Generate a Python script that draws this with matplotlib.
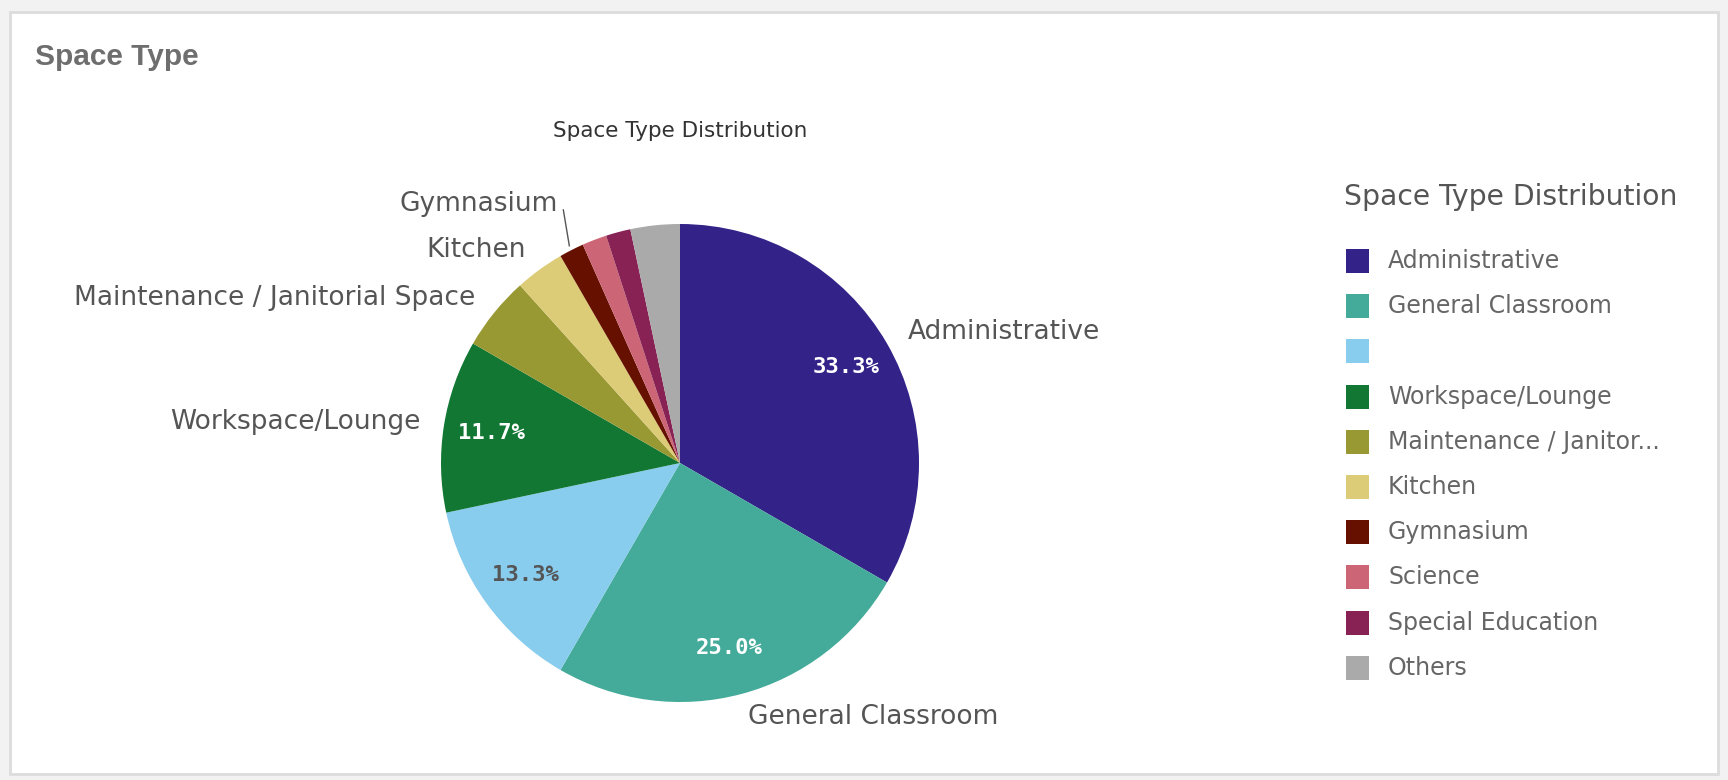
import numpy as np
import matplotlib
matplotlib.use("Agg")
import matplotlib.pyplot as plt
from matplotlib.patches import Rectangle

plt.rcParams['font.family'] = ['DejaVu Sans']

# Data (share of 60 spaces)
categories = ['Administrative', 'General Classroom', '', 'Workspace/Lounge',
              'Maintenance / Janitorial Space', 'Kitchen', 'Gymnasium',
              'Science', 'Special Education', 'Others']
legend_labels = ['Administrative', 'General Classroom', '', 'Workspace/Lounge',
                 'Maintenance / Janitor...', 'Kitchen', 'Gymnasium',
                 'Science', 'Special Education', 'Others']
values = [20, 15, 8, 7, 3, 2, 1, 1, 1, 2]
colors = ['#332288', '#44aa99', '#88ccee', '#117733', '#999933',
          '#ddcc77', '#661100', '#cc6677', '#882255', '#aaaaaa']
# which slices get outside labels / inside percentages
show_label = [True, True, False, True, True, True, False, False, False, False]
show_pct = [True, True, True, True, False, False, False, False, False, False]
pct_colors = ['white', 'white', '#555555', 'white']

W, H = 1728, 780
fig = plt.figure(figsize=(W / 100, H / 100), dpi=100)
fig.patch.set_facecolor('#f2f2f2')

# card
card = Rectangle((10 / W, 6 / H), 1708 / W, 762 / H, transform=fig.transFigure,
                 facecolor='white', edgecolor='#dcdcdc', linewidth=2, zorder=-10)
fig.patches.append(card)

fig.text(35 / W, 1 - 57 / H, 'Space Type', fontsize=21.5, fontweight='bold',
         color='#6e6e6e', va='center', ha='left',
         family=['Liberation Sans Narrow', 'Liberation Sans', 'DejaVu Sans'])

# pie axes
cx, cy, R = 680, 463, 239
ax = fig.add_axes([(cx - R) / W, (H - cy - R) / H, 2 * R / W, 2 * R / H])

total = sum(values)
wedges, _ = ax.pie(values, colors=colors, startangle=90, counterclock=False,
                   wedgeprops=dict(linewidth=0))
ax.set_xlim(-1, 1)
ax.set_ylim(-1, 1)
ax.set_aspect('equal')
ax.axis('off')

ax.text(0, 1.39, 'Space Type Distribution', ha='center', va='center',
        fontsize=15.5, color='#333333')

k = 0
for i, w in enumerate(wedges):
    mid = np.deg2rad((w.theta1 + w.theta2) / 2)
    x, y = np.cos(mid), np.sin(mid)
    if show_label[i]:
        ax.text(1.1 * x, 1.1 * y, categories[i], ha='left' if x > 0 else 'right',
                va='center', fontsize=19, color='#555555')
    if show_pct[i]:
        ax.text(0.8 * x, 0.8 * y, f'{values[i] / total * 100:.1f}%', ha='center',
                va='center', fontsize=16, fontweight='bold', color=pct_colors[k],
                family=['DejaVu Sans Mono'])
        k += 1

# Gymnasium label pushed up, with a short leader line to its slice
gi = categories.index('Gymnasium')
w = wedges[gi]
mid = np.deg2rad((w.theta1 + w.theta2) / 2)
x0, y0 = 1.02 * np.cos(mid), 1.02 * np.sin(mid)
ax.plot([x0, x0 - 0.025], [y0, y0 + 0.15], color='#555555', lw=1,
        clip_on=False)
ax.text(x0 - 0.05, y0 + 0.175, 'Gymnasium', ha='right', va='center',
        fontsize=19, color='#555555')

# legend
fig.text(1344 / W, 1 - 197 / H, 'Space Type Distribution', fontsize=20.3,
         color='#555555', va='center', ha='left')
for i, lab in enumerate(legend_labels):
    yc = 261 + i * 45.2
    fig.patches.append(Rectangle((1346 / W, 1 - (yc + 12) / H), 23 / W, 24 / H,
                                 transform=fig.transFigure, facecolor=colors[i],
                                 edgecolor='none'))
    fig.text(1388 / W, 1 - yc / H, lab, fontsize=17, color='#666666',
             va='center', ha='left')

fig.savefig('out.png', dpi=100, facecolor=fig.get_facecolor())
